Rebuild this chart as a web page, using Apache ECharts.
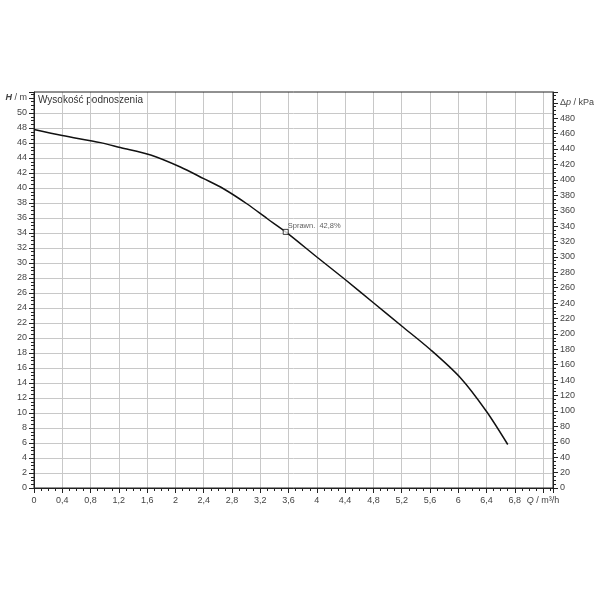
<!DOCTYPE html>
<html>
<head>
<meta charset="utf-8">
<script src="https://cdn.jsdelivr.net/npm/echarts@6/dist/echarts.min.js"></script>
<style>html,body{margin:0;padding:0;background:#fff}#c{width:600px;height:600px}</style>
</head>
<body>
<div id="c"></div>
<script>
// Flow Q (m³/h) and head H (m)
var flowQ = [0, 0.4, 0.94, 1.22, 1.65, 2.07, 2.40, 2.68, 3.01, 3.30, 3.56, 4.00, 4.40, 4.80, 5.20, 5.60, 6.03, 6.40, 6.70];
var headH = [47.8, 47.0, 46.05, 45.4, 44.4, 42.8, 41.25, 39.9, 37.9, 35.9, 34.15, 30.8, 27.8, 24.7, 21.6, 18.5, 14.7, 10.2, 5.8];
var effPoint = [3.56, 34.15];
var effLabel = 'Sprawn.  42,8%';
var titleText = 'Wysokość podnoszenia';

var FONT = 'Liberation Sans';
var labelColor = '#444';
function fmtNum(v){ var r = Math.round(v*10)/10; return String(r).replace('.', ','); }

var chart = echarts.init(document.getElementById('c'));
var axisCommon = {
  axisLine: {show: true, onZero: false, lineStyle: {color: '#222', width: 1}},
  axisTick: {show: true, length: 5, lineStyle: {color: '#222'}},
  minorTick: {show: true, splitNumber: 4, length: 3, lineStyle: {color: '#222'}},
  splitLine: {show: true, lineStyle: {color: '#c8c8c8', width: 1}},
};
var hidden = {show: true, axisLine: {show: false}, axisTick: {show: false}, axisLabel: {show: false}};
chart.setOption({
  animation: false,
  backgroundColor: '#fff',
  grid: [
    {left: 34, right: 47, top: 92, bottom: 112, show: true, borderColor: '#222', borderWidth: 1, containLabel: false, z: 2},
    // helper grid for horizontal grid lines up to 52 m (no line at the 52 level)
    {left: 34, right: 47, top: 98, bottom: 112, show: false, containLabel: false}
  ],
  xAxis: [
    Object.assign({}, axisCommon, {
      type: 'value', min: 0, max: 7.34, interval: 0.4, gridIndex: 0,
      axisLabel: {fontFamily: FONT, fontSize: 9, color: labelColor, margin: 8,
        formatter: function(v){
          var k = Math.round(v/0.4);
          if (Math.abs(v - k*0.4) > 1e-6) return '';
          if (Math.abs(v - 7.2) < 1e-6) return '{i|Q} / m³/h';
          return fmtNum(v);
        },
        rich: {i: {fontStyle: 'italic', fontFamily: FONT, fontSize: 9, color: labelColor}}
      }
    }),
    Object.assign({type: 'value', min: 0, max: 7.34, gridIndex: 1, splitLine: {show: false}}, hidden)
  ],
  yAxis: [
    Object.assign({}, axisCommon, {
      type: 'value', min: 0, max: 52.8, interval: 2, position: 'left', gridIndex: 0,
      splitLine: {show: false},
      axisLabel: {fontFamily: FONT, fontSize: 9, color: labelColor, margin: 7,
        formatter: function(v){
          if (Math.abs(v - Math.round(v/2)*2) > 1e-6) return '';
          if (Math.abs(v - 52) < 1e-6) return '{i|H} / m';
          return String(v);
        },
        rich: {i: {fontStyle: 'italic', fontWeight: 'bold', fontFamily: FONT, fontSize: 9, color: labelColor}}
      }
    }),
    Object.assign({}, axisCommon, {
      type: 'value', min: 0, max: 514, interval: 20, position: 'right', gridIndex: 0,
      splitLine: {show: false},
      axisLabel: {fontFamily: FONT, fontSize: 9, color: labelColor, margin: 7,
        formatter: function(v){
          if (Math.abs(v - Math.round(v/20)*20) > 1e-6) return '';
          if (Math.abs(v - 500) < 1e-6) return 'Δ{i|p} / kPa';
          return String(v);
        },
        rich: {i: {fontStyle: 'italic', fontFamily: FONT, fontSize: 9, color: labelColor}}
      }
    }),
    Object.assign({type: 'value', min: 0, max: 52, interval: 2, gridIndex: 1,
      splitLine: {show: true, showMinLine: false, showMaxLine: false, lineStyle: {color: '#c8c8c8', width: 1}}}, hidden)
  ],
  graphic: [{
    type: 'text', left: 38, top: 95,
    style: {text: titleText, fontFamily: FONT, fontSize: 10, fill: '#333'}
  }],
  series: [{
    type: 'line', xAxisIndex: 0, yAxisIndex: 0,
    data: flowQ.map(function(q, i){ return [q, headH[i]]; }),
    smooth: 0.3, showSymbol: false, symbol: 'none',
    lineStyle: {color: '#111', width: 1.5}, z: 3
  }, {
    type: 'scatter', xAxisIndex: 0, yAxisIndex: 0,
    data: [effPoint],
    symbol: 'rect', symbolSize: 5,
    itemStyle: {color: '#fff', borderColor: '#111', borderWidth: 1},
    label: {show: true, formatter: effLabel, position: 'right', offset: [-6, -6],
      fontFamily: FONT, fontSize: 7.5, color: '#333'},
    z: 4
  }]
});
</script>
</body>
</html>
